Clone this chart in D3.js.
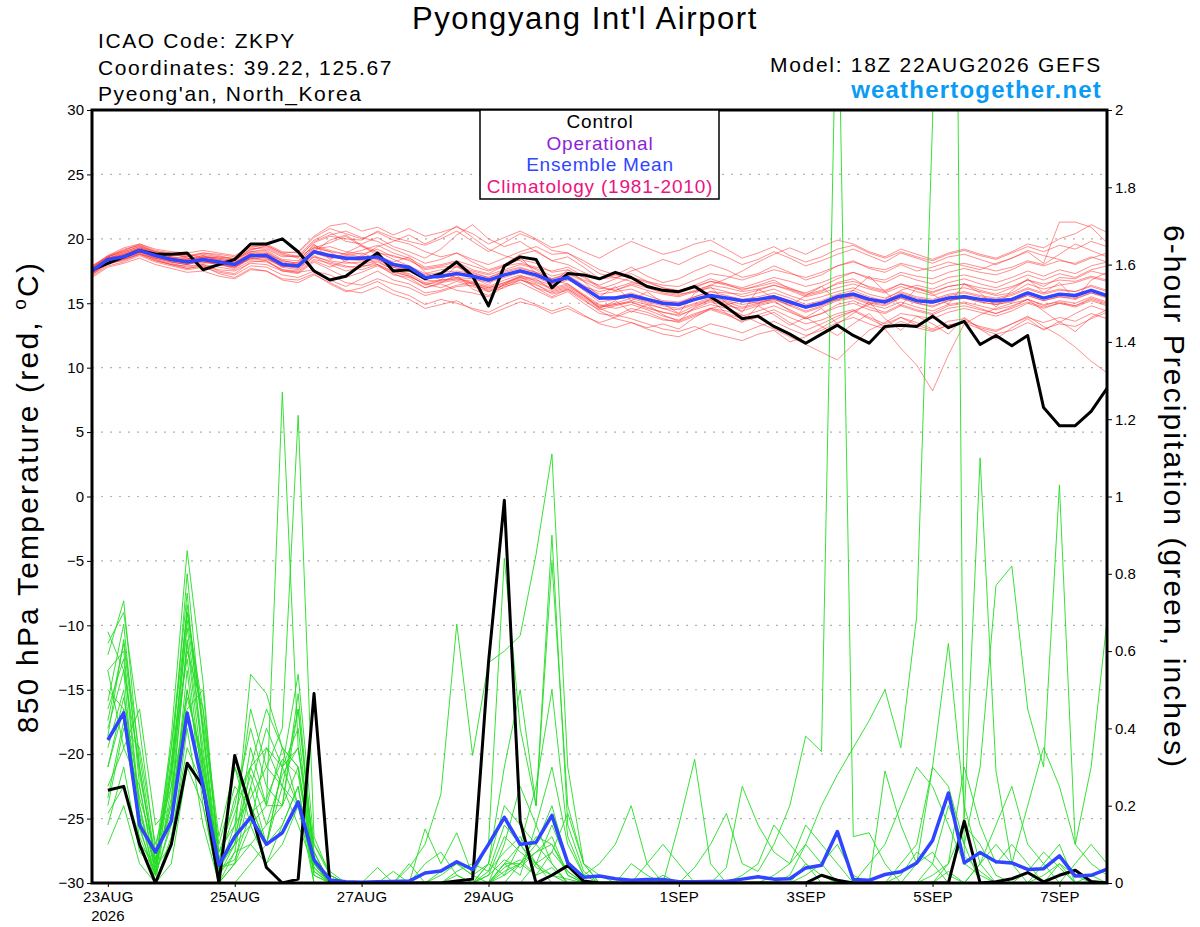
<!DOCTYPE html>
<html>
<head>
<meta charset="utf-8">
<script src="https://cdn.jsdelivr.net/npm/d3@7"></script>
<style>
  body { margin: 0; background: #fff; }
  svg { font-family: "Liberation Sans", Arial, Helvetica, sans-serif; }
</style>
</head>
<body>
<svg id="chart" width="1200" height="927"></svg>
<script>
// 6-hourly GEFS output, 18Z 22AUG2026 .. 18Z 07SEP2026 (65 steps)
var runStart = new Date(Date.UTC(2026, 7, 22, 18));
var runEnd = new Date(Date.UTC(2026, 8, 7, 18));

var dateTicks = [
  new Date(Date.UTC(2026, 7, 23)), new Date(Date.UTC(2026, 7, 25)),
  new Date(Date.UTC(2026, 7, 27)), new Date(Date.UTC(2026, 7, 29)),
  new Date(Date.UTC(2026, 8, 1)), new Date(Date.UTC(2026, 8, 3)),
  new Date(Date.UTC(2026, 8, 5)), new Date(Date.UTC(2026, 8, 7))
];
var tempTicks = [-30, -25, -20, -15, -10, -5, 0, 5, 10, 15, 20, 25, 30];
var precipTicks = [0, 0.2, 0.4, 0.6, 0.8, 1, 1.2, 1.4, 1.6, 1.8, 2];

// 850 hPa temperature, control run (black)
var tempControl = [17.6,18.1,18.6,19.1,18.8,18.8,18.9,17.6,18.0,18.4,
  19.6,19.6,20.0,19.0,17.5,16.8,17.1,18.0,18.9,17.5,
  17.6,16.9,17.3,18.2,17.1,14.8,17.9,18.6,18.4,16.2,
  17.3,17.2,16.9,17.4,17.0,16.3,16.0,15.9,16.3,15.5,
  14.7,13.8,14.0,13.2,12.6,11.9,12.6,13.3,12.5,11.9,
  13.2,13.3,13.2,14.0,13.1,13.6,11.8,12.5,11.7,12.5,
  6.9,5.5,5.5,6.6,8.4];

// 850 hPa temperature, ensemble mean (blue)
var tempMean = [17.5,18.4,18.6,19.1,18.7,18.4,18.2,18.4,18.2,18.0,
  18.7,18.7,18.0,17.9,19.0,18.7,18.5,18.5,18.6,18.0,
  17.8,17.0,17.1,17.3,17.1,16.8,17.2,17.5,17.2,16.7,
  17.0,16.2,15.4,15.4,15.6,15.3,15.0,14.9,15.3,15.6,
  15.4,15.2,15.3,15.5,15.1,14.7,15.0,15.5,15.7,15.3,
  15.1,15.6,15.2,15.1,15.4,15.5,15.3,15.2,15.3,15.8,
  15.4,15.7,15.6,16.0,15.6];

// 850 hPa temperature, ensemble members (red)
var tempMembers = [
  [17.8,18.5,18.9,19.3,18.9,18.2,18.0,18.6,18.5,18.3, 19.2,19.4,18.8,18.5,19.8,20.3,20.6,20.1,19.8,19.2, 18.7,18.1,18.4,18.9,18.2,17.6,18.0,18.8,19.1,18.3, 18.0,17.4,16.9,17.2,17.8,17.1,16.6,16.9,17.5,18.0, 17.6,17.0,17.3,17.9,17.4,16.8,17.2,17.9,18.3,17.7, 17.4,18.0,17.5,17.8,18.2,17.9,17.6,18.1,18.5,19.0, 18.1,21.3,21.3,20.9,19.7],
  [17.2,18.0,18.4,18.8,18.3,18.0,17.7,17.9,17.6,17.5, 18.1,18.0,17.5,17.3,18.2,17.6,17.0,17.4,17.9,17.3, 16.8,16.2,16.5,16.0,15.8,15.5,16.3,16.6,16.0,15.4, 15.9,15.0,14.2,14.0,14.6,14.3,13.8,13.5,14.0,14.5, 14.1,13.6,13.9,14.3,13.5,12.9,13.4,14.0,14.4,13.8, 13.2,13.9,13.5,13.0,13.6,13.8,13.1,12.8,13.4,14.0, 13.2,12.5,11.6,10.5,9.6],
  [17.6,18.3,18.7,19.0,18.8,18.6,18.5,18.2,18.0,17.8, 18.5,18.9,18.3,18.1,19.4,19.0,18.2,18.0,18.3,17.6, 17.2,16.4,16.8,17.0,16.5,16.2,16.6,17.1,16.9,16.0, 16.3,15.6,14.8,15.0,15.4,15.0,14.6,14.2,14.8,15.2, 15.0,14.4,14.8,15.1,14.5,13.9,13.2,12.5,13.4,14.2, 13.0,11.5,10.2,8.2,11.0,13.4,14.1,14.6,15.0,15.3, 14.8,15.2,15.0,15.5,15.1],
  [17.9,18.6,19.2,19.5,19.0,18.8,18.6,18.9,18.7,18.4, 19.0,19.2,18.6,18.7,19.9,20.5,19.8,19.6,20.1,19.4, 19.0,18.5,19.2,20.3,21.1,20.0,19.4,19.8,19.0,18.3, 18.6,17.8,16.9,17.0,17.3,16.7,16.2,15.9,16.4,16.9, 16.5,16.0,16.4,16.8,16.1,15.6,15.9,16.6,16.9,16.2, 15.9,16.5,16.1,15.8,16.3,16.5,16.0,15.7,16.2,16.8, 16.3,17.0,16.9,17.5,17.2],
  [17.3,18.2,18.5,18.9,18.4,18.1,17.8,18.0,17.5,17.3, 18.2,18.3,17.6,17.4,17.6,16.8,16.3,16.9,17.5,16.8, 16.5,15.8,16.0,16.4,16.6,15.9,16.2,16.8,16.5,15.7, 16.0,15.2,14.5,14.8,15.1,14.6,14.3,14.0,14.6,15.1, 14.8,14.6,14.9,15.2,14.4,13.8,14.2,14.9,15.2,14.7, 14.3,14.9,14.5,14.2,14.8,15.0,14.6,14.2,14.7,15.3, 14.9,15.1,14.8,15.4,15.0],
  [17.6,18.4,18.8,19.2,18.6,18.3,18.4,18.7,18.3,18.1, 18.9,18.5,17.8,18.2,19.6,18.4,18.9,19.5,18.7,18.2, 18.6,17.4,16.8,17.9,17.0,16.4,17.8,18.6,17.3,16.5, 17.6,16.7,15.5,16.3,15.2,15.9,15.0,14.2,15.8,16.3, 15.0,14.3,16.1,15.4,14.8,15.6,16.3,15.2,16.0,17.1, 15.9,14.8,16.2,15.7,14.9,16.5,15.8,14.7,16.0,16.9, 15.8,16.6,15.3,16.8,17.4],
  [17.7,18.6,19.0,19.4,18.9,18.7,18.8,18.5,18.6,18.4, 19.1,19.5,18.9,18.6,19.3,19.7,20.2,19.4,18.9,18.7, 18.3,17.7,17.9,18.2,17.6,17.3,17.9,18.1,17.8,17.5, 17.8,17.1,16.3,16.0,16.5,16.2,15.8,15.6,16.0,16.4, 16.2,15.9,16.1,16.4,16.0,15.5,15.8,16.2,16.5,16.1, 15.8,16.3,15.9,15.6,16.0,16.2,15.9,15.6,15.8,16.5, 16.1,16.4,16.6,17.0,16.7],
  [17.4,18.1,18.3,18.8,18.5,18.2,18.0,18.3,18.1,17.9, 18.4,18.6,18.1,17.8,18.7,18.2,17.9,17.6,18.0,17.5, 17.1,16.5,16.2,16.7,16.3,15.9,16.4,16.9,16.2,15.8, 16.1,15.3,14.4,13.8,13.5,13.1,13.4,13.0,13.9,14.6, 14.9,15.2,15.0,15.4,15.1,14.6,14.9,15.3,15.5,15.0, 14.8,15.4,15.0,14.7,15.2,15.4,15.1,14.9,15.2,15.6, 15.2,15.5,15.3,15.8,15.4],
  [17.5,18.5,18.8,19.1,18.6,18.5,18.3,18.6,18.4,18.2, 18.8,18.9,18.2,18.0,19.2,19.4,19.0,18.8,19.2,18.6, 18.4,17.6,17.8,17.9,17.5,17.2,17.6,18.0,17.7,17.1, 17.4,16.8,16.4,16.9,17.5,17.9,18.4,18.0,18.6,19.1, 18.6,18.0,18.4,19.0,18.5,17.9,18.3,18.8,19.2,18.7, 18.2,18.9,18.5,18.1,18.6,18.8,18.4,18.0,18.5,19.1, 18.7,18.4,18.0,18.5,18.9],
  [17.3,18.2,18.6,19.0,18.6,18.4,18.1,18.2,18.0,17.7, 18.5,18.4,17.9,17.7,18.6,18.0,17.5,17.8,18.2,17.6, 17.3,16.6,16.8,16.9,16.7,16.3,16.8,17.2,16.7,16.2, 16.5,15.7,14.9,14.6,14.9,14.5,14.0,13.7,14.2,14.6, 14.2,13.8,14.1,14.5,13.9,13.4,13.7,14.2,14.5,13.9, 13.4,13.9,13.3,12.9,13.3,13.5,13.0,12.6,12.9,13.5, 13.0,13.4,13.2,13.8,14.3],
  [17.8,18.7,19.1,19.6,19.1,18.9,18.5,18.3,18.0,17.8, 18.6,18.8,18.1,17.9,19.0,19.9,20.3,19.5,19.0,18.4, 17.9,17.3,17.6,17.8,17.4,17.0,17.5,17.8,17.4,16.9, 17.2,16.4,15.7,15.9,16.1,15.6,15.2,15.1,15.5,15.9, 15.6,15.3,15.5,15.8,15.4,14.9,15.2,15.7,16.0,15.5, 15.2,15.8,15.4,15.2,15.6,15.8,15.5,15.3,15.6,16.1, 15.7,16.0,15.9,16.3,15.9],
  [17.1,17.9,18.2,18.7,18.2,17.9,17.6,17.8,17.4,17.2, 17.9,17.8,17.2,17.0,17.5,17.2,16.6,16.4,16.9,16.5, 16.2,15.6,15.9,16.3,16.4,16.1,16.5,17.0,16.8,16.4, 16.8,16.3,15.9,16.2,16.6,16.4,16.0,15.8,16.2,16.7, 16.5,16.2,16.6,17.0,16.7,16.3,16.6,17.1,17.4,16.9, 16.6,17.2,16.8,16.5,17.0,17.2,16.9,16.6,17.0,17.5, 17.1,17.6,17.3,17.9,18.2],
  [17.6,18.3,18.7,19.2,18.7,18.5,18.4,18.7,18.5,18.3, 19.0,19.1,18.4,18.3,19.5,19.1,18.8,18.6,19.4,19.8, 20.3,19.6,20.2,21.0,20.1,19.2,18.7,18.3,17.6,16.8, 16.5,15.6,14.6,14.1,13.8,13.4,13.0,12.8,13.2,12.7, 12.4,12.1,12.6,12.9,12.0,12.4,13.1,13.8,14.4,14.9, 15.3,16.0,16.4,16.1,16.6,16.9,16.5,16.2,16.7,17.2, 16.8,17.3,17.0,17.6,17.9],
  [17.5,18.4,18.5,19.0,18.8,18.6,18.2,18.1,18.3,18.0, 18.7,18.6,17.9,17.8,18.9,18.5,18.7,18.9,18.4,17.8, 17.5,16.9,17.2,17.0,16.9,16.6,17.0,17.4,17.0,16.5, 16.9,16.0,15.1,15.3,15.5,15.1,14.8,14.6,15.0,15.4, 15.2,14.9,15.1,15.3,14.9,14.4,14.8,15.3,15.6,15.1, 14.9,15.4,15.0,14.8,15.2,15.4,15.1,14.9,15.1,15.6, 15.2,15.5,15.4,15.8,15.5],
  [17.7,18.5,18.7,19.3,18.8,18.4,18.3,18.5,18.2,18.1, 18.8,18.7,18.0,18.0,19.1,18.6,18.4,18.3,18.5,17.9, 17.6,16.9,17.1,17.4,17.1,16.7,17.1,17.6,17.2,16.6, 17.0,16.1,15.3,15.5,15.8,15.4,15.1,15.0,15.5,15.9, 15.8,15.7,16.0,16.4,16.1,15.8,16.3,16.9,17.4,17.0, 16.8,17.4,17.1,16.9,17.4,17.7,17.4,17.2,17.6,18.2, 17.9,18.3,18.1,18.6,18.2],
  [17.4,18.3,18.6,19.0,18.5,18.2,18.0,18.3,18.1,17.9, 18.6,18.5,17.8,17.6,18.6,18.3,18.1,18.2,18.4,17.8, 17.5,16.8,16.7,16.9,16.6,16.2,16.6,17.0,16.6,16.1, 16.4,15.6,14.7,14.9,15.1,14.7,14.3,14.1,14.5,14.9, 14.6,14.1,13.5,13.0,12.4,11.8,11.2,10.6,11.8,12.9, 13.5,14.2,14.0,13.8,14.3,14.6,14.3,14.0,14.4,15.0, 14.6,15.0,14.7,15.2,14.8],
  [17.8,18.6,19.0,19.4,19.0,18.8,18.7,18.9,18.8,18.6, 19.3,19.6,19.0,18.9,20.1,20.8,20.4,20.0,20.5,19.9, 19.6,19.0,18.6,18.9,18.4,18.0,18.5,19.0,19.4,18.8, 18.9,18.3,17.6,17.2,17.0,16.6,16.2,16.0,16.3,16.7, 16.4,16.1,16.3,16.6,16.2,15.7,16.0,16.5,16.7,16.3, 16.0,16.5,16.2,15.9,16.3,16.5,16.2,16.0,16.3,16.8, 16.5,16.8,16.7,17.1,16.8],
  [17.2,18.1,18.4,18.9,18.4,18.0,17.9,18.0,17.8,17.6, 18.3,18.2,17.6,17.5,18.4,18.1,17.8,17.9,18.0,17.4, 17.1,16.5,16.6,16.8,16.5,16.0,16.4,16.8,16.4,15.9, 16.2,15.5,14.7,14.9,15.2,14.9,14.6,14.5,14.9,15.3, 15.1,14.7,15.0,15.3,14.8,14.3,14.7,15.2,15.4,14.9, 14.6,15.1,14.7,14.4,14.9,15.1,14.8,14.5,14.8,15.3, 14.4,13.5,14.2,14.8,14.4],
  [17.6,18.4,18.6,19.1,18.7,18.5,18.3,18.4,18.2,18.0, 18.7,18.8,18.1,17.9,18.9,18.6,18.5,18.6,18.7,18.1, 17.8,17.2,17.4,17.5,17.3,17.0,17.4,17.7,17.4,16.9, 17.3,16.7,16.1,16.5,17.0,16.7,16.4,16.3,16.8,17.3, 17.1,16.8,17.2,17.6,17.3,17.0,17.4,17.9,18.2,17.8, 17.6,18.1,17.8,17.5,17.9,18.1,17.8,17.5,17.8,18.3, 18.0,18.8,19.6,19.1,18.6],
  [17.5,18.3,18.8,19.2,18.7,18.5,18.2,18.5,18.3,18.1, 18.8,18.7,18.0,17.9,19.1,18.8,18.6,18.5,18.6,18.0, 17.7,17.0,17.2,17.4,17.2,16.8,17.2,17.5,17.1,16.6, 16.9,16.1,15.3,15.4,15.6,15.2,14.9,14.8,15.2,15.6, 15.4,15.1,15.3,15.6,15.2,14.7,15.1,15.6,15.8,15.4, 15.1,15.6,15.2,15.0,15.4,15.6,15.3,15.0,15.3,15.8, 15.4,15.7,15.5,16.0,15.6],
  [17.9,18.7,19.3,19.6,19.2,19.0,18.9,19.1,18.9,18.7, 19.4,19.5,18.9,19.0,20.2,21.0,21.2,20.6,20.9,20.3, 20.8,20.2,20.5,20.9,20.4,19.6,20.1,20.6,20.0,19.3, 19.6,19.0,18.5,19.2,19.8,19.3,18.8,19.1,19.6,19.9, 19.2,18.5,18.9,19.4,18.7,18.2,18.6,19.2,19.5,18.9, 18.5,19.0,18.6,18.3,18.8,19.1,18.7,18.4,18.9,19.4, 19.0,19.5,19.2,19.8,19.4],
  [17.0,17.8,18.1,18.5,18.0,17.7,17.4,17.5,17.1,16.9, 17.6,17.5,16.9,16.8,17.3,16.5,15.9,16.2,16.7,16.0, 15.6,14.9,15.3,15.0,14.6,14.3,14.9,15.4,14.9,14.4, 14.8,14.1,13.4,13.1,13.5,13.0,12.6,12.4,12.9,13.4, 13.1,12.7,13.2,13.6,13.0,12.5,12.9,13.5,13.9,13.4, 13.0,13.6,13.1,12.8,13.3,13.6,13.2,12.9,13.4,13.9, 13.5,13.9,13.6,14.2,13.8],
  [17.6,18.5,18.9,19.3,18.9,18.6,18.4,18.6,18.4,18.2, 18.9,19.0,18.3,18.1,19.3,19.0,18.8,19.1,19.5,18.9, 18.5,17.8,18.0,18.3,17.9,17.5,17.9,18.4,18.1,17.4, 17.6,17.0,16.2,16.0,16.4,16.0,15.7,15.5,15.9,16.4, 16.9,17.5,18.2,18.8,19.3,18.8,19.4,19.9,19.6,19.0, 18.6,19.2,18.8,18.4,18.9,19.2,18.8,18.5,19.0,19.6, 19.3,20.0,20.4,21.1,20.5],
  [17.4,18.2,18.5,19.0,18.5,18.3,18.1,18.4,18.1,17.8, 18.5,18.3,17.5,17.4,18.3,17.8,18.3,18.7,18.0,17.2, 17.0,16.2,16.6,17.2,16.1,15.6,16.5,17.1,16.2,15.5, 16.1,15.4,14.6,15.2,14.3,14.9,14.1,13.6,14.7,15.3, 14.2,13.5,14.8,14.1,13.3,13.9,14.6,13.4,14.2,15.1, 13.8,12.9,14.0,13.4,12.6,13.9,13.0,12.2,13.1,13.8, 12.9,13.6,12.8,13.9,14.5],
  [17.7,18.6,19.1,19.5,19.0,18.8,18.6,18.8,18.6,18.5, 19.2,19.3,18.7,18.6,19.7,20.2,20.0,19.9,20.6,20.1, 19.8,19.5,20.0,20.6,19.8,19.0,19.7,20.4,19.9,19.1, 18.9,18.1,17.3,17.0,16.7,16.3,15.9,15.7,15.9,16.2, 15.9,15.5,15.8,16.1,15.6,15.2,15.5,15.9,16.2,15.7, 15.4,15.9,15.5,15.3,15.7,15.9,15.6,15.4,15.7,16.2, 15.8,16.1,15.9,16.4,16.0],
  [17.3,18.1,18.4,18.8,18.3,18.0,17.7,17.9,17.3,17.0, 17.7,17.5,16.8,16.6,17.2,16.6,16.0,15.8,16.3,15.7, 15.3,14.6,14.9,15.2,14.5,14.1,14.6,15.1,14.8,14.2, 14.6,14.0,13.5,13.9,14.4,14.1,13.7,13.6,14.1,14.6, 14.4,14.0,14.4,14.8,14.3,13.8,14.2,14.7,15.0,14.5, 14.2,14.8,14.4,14.1,14.6,14.8,14.5,14.2,14.6,15.1, 14.7,15.0,14.8,15.3,14.9]
];

// 6-hour precipitation (inches), valid 00Z 23AUG onward (64 steps)
var precipControl = [0.24,0.25,0.10,0,0.10,0.31,0.25,0,
  0.33,0.19,0.04,0,0.01,0.49,0,0,
  0,0,0,0,0,0,0.005,0.01,
  0.57,0.99,0.16,0,0.02,0.045,0.005,0,
  0,0,0,0,0,0,0,0,
  0,0,0,0,0,0.02,0.007,0,
  0,0,0,0,0,0,0.16,0,
  0.003,0.011,0.027,0.003,0.02,0.033,0.004,0];

var precipMean = [0.37,0.44,0.15,0.08,0.16,0.44,0.25,0.046,
  0.12,0.17,0.10,0.13,0.21,0.06,0.008,0.003,
  0.002,0.003,0.004,0.005,0.026,0.031,0.055,0.035,
  0.10,0.17,0.10,0.105,0.175,0.052,0.015,0.018,
  0.011,0.007,0.009,0.009,0.003,0.003,0.004,0.004,
  0.01,0.016,0.01,0.011,0.039,0.046,0.133,0.009,
  0.007,0.022,0.029,0.052,0.11,0.233,0.052,0.079,
  0.055,0.052,0.035,0.037,0.07,0.018,0.02,0.036];

var precipMembers = [
  [0.59,0.73,0.30,0.04,0.38,0.86,0.52,0.06, 0.22,0.30,0.20,1.27,0.35,0.04,0,0, 0,0,0,0,0,0.02,0.05,0.02, 0,0.05,0.10,0.04,0.02,0,0,0, 0,0,0,0,0,0,0,0, 0,0,0,0.02,0.10,0.05,0,0, 0,0,0,0,0,0.03,0,0, 0,0,0,0.05,0.10,0,0,0],
  [0.47,0.67,0.25,0.02,0.30,0.66,0.35,0.03, 0.15,0.45,0.30,0.40,1.21,0.12,0.02,0, 0,0,0.03,0,0.05,0.08,0.02,0, 0.05,0.20,0.15,0.10,0.05,0,0,0, 0,0,0,0.02,0,0,0,0, 0,0,0,0,0.05,0.02,0,0, 0,0,0.02,0.08,0.05,0,0,0, 0,0,0,0,0,0,0.02,0],
  [0.35,0.50,0.15,0,0.25,0.72,0.40,0.02, 0.30,0.20,0.10,0.25,0.45,0.08,0,0, 0,0,0,0,0,0,0.03,0.05, 0.03,0.08,0.12,0.05,0.02,0.01,0,0, 0,0,0,0,0,0.04,0.10,0.18, 0.05,0.03,0.10,0.20,0.38,0.34,2.45,0.12, 0.13,0.05,0,0,0,0,0,0, 0,0,0,0,0,0,0,0],
  [0.55,0.60,0.20,0.03,0.35,0.75,0.30,0.04, 0.10,0.25,0.40,0.30,0.20,0.05,0,0, 0,0,0,0,0,0,0,0, 0,0,0.05,0.02,0.08,0.03,0,0, 0,0,0,0,0,0,0,0, 0,0,0.02,0.05,0.10,0.20,0.28,0.35, 0.42,0.50,0.35,0.69,1.97,5.00,0.07,0.03, 0,0,0,0,0,0,0,0],
  [0.40,0.55,0.10,0.05,0.20,0.62,0.28,0, 0.05,0.15,0.35,0.30,0.54,0.10,0.03,0, 0,0,0,0.04,0.10,0.23,0.67,0.33, 0.57,0.60,0.64,0.85,1.11,0.30,0.05,0.02, 0,0,0.05,0.10,0.05,0,0,0, 0,0,0,0,0,0,0,0, 0,0,0,0,0,0,0,0, 0,0,0,0,0,0,0,0],
  [0.30,0.45,0.17,0.02,0.15,0.55,0.20,0, 0.08,0.10,0.15,0.20,0.49,0.05,0,0, 0,0,0,0,0,0.03,0.05,0.02, 0.10,0.84,0.40,0.20,0.90,0.15,0.03,0, 0,0,0,0,0,0,0,0, 0,0,0,0,0,0,0,0, 0,0.29,0.15,0.05,0.30,0.62,0.20,0.05, 0,0,0,0,0,0,0,0],
  [0.20,0.40,0.35,0.10,0.25,0.45,0.50,0.05, 0.12,0.54,0.49,0.35,0.30,0.02,0,0, 0,0.04,0,0,0.14,0.05,0.13,0.02, 0.05,0.30,0.50,0.20,0.83,0.20,0.05,0, 0,0,0,0,0,0,0,0, 0,0,0,0,0,0,0,0, 0,0,0,0,0,0,0.17,1.10, 0.29,0.05,0,0,0,0,0,0],
  [0.15,0.30,0.08,0.04,0.10,0.40,0.15,0, 0,0.05,0.10,0.15,0.25,0,0,0, 0,0,0,0,0,0,0,0, 0,0.05,0.05,0.10,0.20,0.05,0,0, 0,0.05,0.02,0,0,0,0,0, 0,0,0,0,0,0,0,0, 0,0,0,0,0.05,0.20,0.10,0.30, 0.77,0.82,0.45,0.30,1.03,0.10,0.05,0.02],
  [0.62,0.70,0.40,0.08,0.35,0.70,0.42,0.10, 0.25,0.20,0.10,0.30,0.35,0.10,0.02,0, 0,0,0,0,0,0,0,0, 0,0.03,0.05,0.12,0.10,0.02,0,0, 0,0,0,0,0,0,0,0, 0,0,0,0,0,0,0,0, 0,0,0,0,0,0,0,0.05, 0.10,0.05,0.20,0.35,0.25,0.10,0.30,0.68],
  [0.25,0.35,0.45,0.15,0.20,0.50,0.30,0.08, 0.20,0.40,0.25,0.20,0.30,0.05,0,0, 0,0,0,0.05,0,0,0.02,0, 0.03,0.15,0.10,0.25,0.50,0.12,0.02,0.05, 0.10,0.20,0.05,0,0,0,0,0, 0,0,0,0,0,0,0,0, 0,0,0.05,0.10,0.30,0.25,0.10,0, 0,0,0,0,0,0,0,0],
  [0.50,0.45,0.20,0,0.12,0.35,0.25,0.02, 0.10,0.15,0.20,0.35,0.20,0.08,0,0, 0,0,0,0,0,0,0,0, 0,0.05,0.02,0.15,0.30,0.10,0.02,0, 0,0,0,0,0,0,0,0, 0.02,0.05,0.15,0.10,0.05,0,0,0, 0,0,0,0,0.02,0.05,0.30,0.15, 0.05,0.10,0.05,0,0,0.05,0.10,0.05],
  [0.42,0.62,0.28,0.06,0.30,0.80,0.38,0.04, 0.05,0.25,0.10,0.30,0.40,0.03,0,0, 0,0,0,0,0,0,0,0, 0,0.10,0.25,0.15,0.05,0,0,0, 0,0,0,0,0,0,0,0.04, 0.25,0.15,0.08,0.05,0.15,0.10,0.05,0, 0,0,0,0,0,0,0,0, 0,0,0,0.02,0.05,0,0,0],
  [0.18,0.25,0.12,0.02,0.28,0.60,0.45,0.12, 0.30,0.15,0.05,0.15,0.25,0.02,0,0, 0,0,0,0,0,0,0,0, 0.02,0.12,0.08,0.05,0.15,0.05,0,0, 0,0,0,0,0.15,0.32,0.05,0, 0,0,0,0,0,0,0,0, 0.05,0.10,0.20,0.30,0.25,0.15,0.05,0.02, 0,0,0,0,0,0,0,0],
  [0.65,0.55,0.30,0.05,0.20,0.63,0.33,0.05, 0.10,0.35,0.20,0.20,0.45,0.05,0.02,0, 0,0,0,0,0,0,0,0, 0,0.02,0.05,0.08,0.12,0.02,0,0, 0,0,0,0,0,0,0,0, 0,0,0,0,0,0,0,0, 0,0,0,0,0,0,0,0, 0,0,0,0,0,0,0,0],
  [0.30,0.48,0.22,0.08,0.18,0.50,0.28,0.02, 0.08,0.30,0.35,0.25,0.15,0.04,0,0, 0,0,0,0,0,0,0,0, 0.05,0.02,0.10,0.05,0.08,0.18,0.05,0, 0,0,0,0,0,0,0,0, 0,0,0,0,0,0,0,0, 0,0,0,0,0,0.05,0.15,0.10, 0.02,0,0,0,0.05,0.02,0,0],
  [0.10,0.20,0.05,0,0.05,0.30,0.20,0, 0.05,0.10,0.05,0.10,0.20,0,0,0, 0,0,0,0,0,0,0,0, 0,0,0,0.05,0,0,0,0, 0,0,0,0,0,0,0,0, 0,0,0,0,0.02,0.05,0.10,0.02, 0,0,0,0,0,0,0,0, 0,0,0,0,0,0,0,0],
  [0.55,0.35,0.25,0.03,0.22,0.68,0.40,0.06, 0.18,0.30,0.45,0.35,0.30,0.06,0,0, 0,0,0,0,0,0,0,0, 0,0,0,0,0,0,0,0, 0,0,0,0,0,0,0,0, 0,0,0,0,0,0,0,0, 0,0,0,0,0,0,0,0.05, 0.15,0.25,0.10,0.05,0,0,0,0],
  [0.45,0.58,0.18,0.05,0.32,0.58,0.25,0.03, 0.12,0.28,0.15,0.28,0.35,0.08,0,0, 0,0,0,0,0,0,0,0, 0,0.04,0.06,0.02,0.04,0,0,0, 0,0,0,0,0,0,0,0, 0,0,0,0,0,0.02,0,0, 0,0,0,0.05,0.08,0.02,0,0, 0,0,0,0,0,0,0,0],
  [0.38,0.63,0.33,0.06,0.28,0.70,0.45,0.08, 0.15,0.22,0.30,0.25,0.20,0.03,0,0, 0,0,0,0,0,0,0,0, 0,0,0,0,0,0,0,0, 0,0,0,0,0,0,0,0, 0,0,0,0,0,0,0,0, 0,0,0,0,0,0,0,0, 0,0,0,0,0,0,0,0],
  [0.22,0.42,0.14,0.02,0.16,0.48,0.32,0.04, 0.06,0.18,0.22,0.32,0.28,0.05,0,0, 0,0,0,0,0,0,0,0, 0.02,0.06,0.04,0.08,0.10,0.03,0,0, 0,0,0,0,0,0,0,0, 0,0,0,0,0,0,0,0, 0,0,0,0,0,0,0,0, 0,0,0.03,0.08,0.04,0,0,0]
];

var legendItems = [
  { label: "Control", color: "#000000" },
  { label: "Operational", color: "#8f1fd8" },
  { label: "Ensemble Mean", color: "#2f45ff" },
  { label: "Climatology (1981-2010)", color: "#ec1380" }
];

drawChart();

function drawChart() {
  var svg = d3.select("#chart");
  var plotLeft = 92, plotRight = 1107, plotTop = 110, plotBottom = 883;

  var x = d3.scaleUtc().domain([runStart, runEnd]).range([plotLeft, plotRight]);
  var yT = d3.scaleLinear().domain([-30, 30]).range([plotBottom, plotTop]);
  var yP = d3.scaleLinear().domain([0, 2]).range([plotBottom, plotTop]);

  function stepTime(i) { return d3.utcHour.offset(runStart, 6 * i); }

  svg.append("defs").append("clipPath").attr("id", "plotclip")
    .append("rect").attr("x", plotLeft).attr("y", plotTop)
    .attr("width", plotRight - plotLeft).attr("height", plotBottom - plotTop);

  // dotted grid at temperature ticks
  svg.append("g").selectAll("line")
    .data(tempTicks.filter(function(t) { return t > -30 && t < 30; }))
    .enter().append("line")
      .attr("x1", plotLeft).attr("x2", plotRight)
      .attr("y1", function(d) { return yT(d); })
      .attr("y2", function(d) { return yT(d); })
      .attr("stroke", "#b0b0b0").attr("stroke-width", 1.2)
      .attr("stroke-dasharray", "2,7");

  var plot = svg.append("g").attr("clip-path", "url(#plotclip)");

  var tempLine = d3.line()
    .x(function(d, i) { return x(stepTime(i)); })
    .y(function(d) { return yT(d); });

  var precipLine = d3.line()
    .x(function(d, i) { return x(stepTime(i + 1)); })
    .y(function(d) { return yP(d); });

  plot.selectAll(".tmem").data(tempMembers).enter().append("path")
    .attr("class", "tmem")
    .attr("d", tempLine)
    .attr("fill", "none").attr("stroke", "#ff3030")
    .attr("stroke-opacity", 0.6).attr("stroke-width", 0.9);

  plot.selectAll(".pmem").data(precipMembers).enter().append("path")
    .attr("class", "pmem")
    .attr("d", precipLine)
    .attr("fill", "none").attr("stroke", "#22dd22")
    .attr("stroke-width", 0.9);

  plot.append("path").datum(tempControl).attr("d", tempLine)
    .attr("fill", "none").attr("stroke", "#000").attr("stroke-width", 3)
    .attr("stroke-linejoin", "round");
  plot.append("path").datum(precipControl).attr("d", precipLine)
    .attr("fill", "none").attr("stroke", "#000").attr("stroke-width", 3)
    .attr("stroke-linejoin", "round");

  plot.append("path").datum(tempMean).attr("d", tempLine)
    .attr("fill", "none").attr("stroke", "#2f45ff").attr("stroke-width", 3.5)
    .attr("stroke-linejoin", "round");
  plot.append("path").datum(precipMean).attr("d", precipLine)
    .attr("fill", "none").attr("stroke", "#2f45ff").attr("stroke-width", 3.5)
    .attr("stroke-linejoin", "round");

  // axes
  var fmtDate = d3.utcFormat("%-d%b");

  var axL = svg.append("g").attr("transform", "translate(" + plotLeft + ",0)")
    .call(d3.axisLeft(yT).tickValues(tempTicks).tickSize(5).tickPadding(3));
  var axR = svg.append("g").attr("transform", "translate(" + plotRight + ",0)")
    .call(d3.axisRight(yP).tickValues(precipTicks).tickSize(5).tickPadding(3)
      .tickFormat(function(d) { return String(+d.toFixed(1)); }));
  var axB = svg.append("g").attr("transform", "translate(0," + plotBottom + ")")
    .call(d3.axisBottom(x).tickValues(dateTicks).tickSize(4).tickPadding(4)
      .tickFormat(function(d) { return fmtDate(d).toUpperCase(); }));

  [axL, axR, axB].forEach(function(a) {
    a.select(".domain").remove();
    a.selectAll("text").attr("font-family", "Liberation Sans, Arial, sans-serif")
      .attr("font-size", 15).attr("fill", "#000");
    a.selectAll("line").attr("stroke", "#000");
  });
  axB.selectAll(".tick text").attr("letter-spacing", 0.3);

  axB.append("text").attr("x", x(dateTicks[0])).attr("y", 38)
    .attr("text-anchor", "middle").attr("font-size", 15).attr("fill", "#000")
    .text("2026");

  // frame
  svg.append("rect").attr("x", plotLeft).attr("y", plotTop)
    .attr("width", plotRight - plotLeft).attr("height", plotBottom - plotTop)
    .attr("fill", "none").attr("stroke", "#000").attr("stroke-width", 3);

  // legend
  var legend = svg.append("g");
  legend.append("rect").attr("x", 480).attr("y", plotTop).attr("width", 239).attr("height", 89)
    .attr("fill", "#fff").attr("stroke", "#000").attr("stroke-width", 1.5);
  legend.selectAll("text").data(legendItems).enter().append("text")
    .attr("x", 600).attr("y", function(d, i) { return 128 + i * 21.7; })
    .attr("text-anchor", "middle").attr("font-size", 19).attr("letter-spacing", 0.8)
    .attr("fill", function(d) { return d.color; })
    .text(function(d) { return d.label; });

  // titles
  svg.append("text").attr("x", 585).attr("y", 29).attr("text-anchor", "middle")
    .attr("font-size", 31).attr("letter-spacing", 1.6).text("Pyongyang Int'l Airport");

  var info = ["ICAO Code: ZKPY", "Coordinates: 39.22, 125.67", "Pyeong'an, North_Korea"];
  svg.selectAll(".info").data(info).enter().append("text")
    .attr("class", "info").attr("x", 98).attr("y", function(d, i) { return 48 + i * 26.5; })
    .attr("font-size", 21).attr("letter-spacing", 1.6).text(function(d) { return d; });

  svg.append("text").attr("x", 1102).attr("y", 72).attr("text-anchor", "end")
    .attr("font-size", 21).attr("letter-spacing", 1.7).text("Model: 18Z 22AUG2026 GEFS");
  svg.append("text").attr("x", 1102).attr("y", 98).attr("text-anchor", "end")
    .attr("font-size", 24).attr("font-weight", "bold").attr("letter-spacing", 1.2)
    .attr("fill", "#0a9bf5")
    .text("weathertogether.net");

  var yl = svg.append("text").attr("transform", "translate(38,497) rotate(-90)")
    .attr("text-anchor", "middle").attr("font-size", 30).attr("letter-spacing", 2.2);
  yl.append("tspan").text("850 hPa Temperature (red, ");
  yl.append("tspan").attr("font-size", 19).attr("dy", -12).text("o");
  yl.append("tspan").attr("dy", 12).text("C)");

  svg.append("text").attr("transform", "translate(1164,497) rotate(90)")
    .attr("text-anchor", "middle").attr("font-size", 30).attr("letter-spacing", 2.1)
    .text("6-hour Precipitation (green, inches)");
}
</script>
</body>
</html>
